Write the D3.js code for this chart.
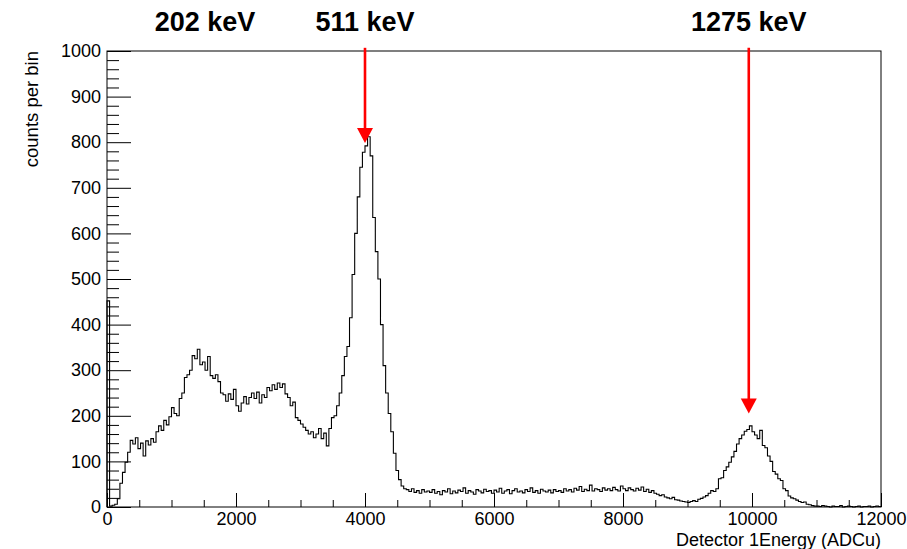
<!DOCTYPE html>
<html><head><meta charset="utf-8">
<script src="https://cdn.jsdelivr.net/npm/d3@7"></script>
<style>
body{margin:0;background:#fff}
svg{display:block}
text{font-family:"Liberation Sans",Arial,Helvetica,sans-serif;fill:#000}
</style>
</head><body>
<svg id="chart" width="907" height="549"></svg>
<script>
// ---- data ----
const binWidth = 40;          // ADCu per bin
const xDomain = [0, 12000];
const yDomain = [0, 1000];
const counts = [
  // 0 - 1000
  452, 2, 4, 6, 18, 52, 76, 98, 120, 146, 138, 152, 128, 140, 112, 145, 136, 150, 142, 165, 178, 168, 190, 180, 198,
  // 1000 - 2000
  218, 205, 200, 238, 250, 284, 290, 300, 332, 325, 346, 312, 318, 300, 330, 288, 282, 290, 275, 250, 246, 232, 248, 236, 258,
  // 2000 - 3000
  222, 210, 228, 242, 226, 240, 250, 238, 252, 228, 246, 240, 262, 255, 268, 258, 272, 262, 270, 248, 240, 222, 230, 196, 190,
  // 3000 - 4000
  182, 175, 168, 160, 165, 152, 160, 172, 150, 162, 134, 172, 196, 200, 222, 250, 288, 330, 352, 415, 510, 600, 680, 745, 778,
  // 4000 - 5000
  792, 812, 770, 635, 560, 500, 400, 310, 250, 205, 165, 118, 80, 60, 46, 40, 38, 34, 40, 32, 36, 30, 38, 33, 35,
  // 5000 - 6000
  32, 38, 30, 34, 27, 36, 33, 40, 29, 35, 31, 37, 34, 42, 30, 36, 33, 28, 38, 35, 31, 39, 34, 36, 30,
  // 6000 - 7000
  37, 33, 41, 30, 35, 38, 29, 36, 40, 33, 35, 31, 38, 34, 42, 32, 36, 30, 39, 35, 33, 37, 31, 38, 34,
  // 7000 - 8000
  36, 32, 40, 35, 38, 33, 41, 37, 45, 34, 39, 36, 48, 35, 40, 38, 34, 42, 37, 40, 36, 43, 38, 35, 46,
  // 8000 - 9000
  40, 36, 42, 38, 35, 41, 37, 44, 34, 39, 32, 36, 30, 28, 25, 27, 22, 20, 18, 21, 16, 15, 13, 12, 11,
  // 9000 - 10000
  10, 12, 14, 12, 17, 19, 22, 25, 30, 36, 34, 40, 62, 64, 80, 88, 98, 110, 122, 138, 150, 158, 166, 170, 178,
  // 10000 - 11000
  165, 158, 150, 168, 135, 130, 112, 100, 78, 72, 62, 58, 40, 36, 24, 20, 18, 15, 12, 10, 11, 6, 5, 3, 2,
  // 11000 - 12000
  2, 1, 3, 2, 1, 0, 2, 1, 1, 3, 0, 1, 2, 1, 0, 1, 2, 0, 1, 1, 2, 0, 1, 2, 1
];
const xMajorTicks = [0, 2000, 4000, 6000, 8000, 10000, 12000];
const xMinorStep = 500;
const yMajorTicks = [0, 100, 200, 300, 400, 500, 600, 700, 800, 900, 1000];
const yMinorStep = 20;
const peakLabels = ["202 keV", "511 keV", "1275 keV"];
const peakLabelX = [1520, 4000, 9950];
const arrowX = [4000, 9950];
const arrowTipY = [798, 205];
const arrowTopY = 1007;
const xTitle = "Detector 1Energy (ADCu)";
const yTitle = "counts per bin";

// ---- layout ----
const svg = d3.select("#chart");
const x = d3.scaleLinear().domain(xDomain).range([107, 881]);
const y = d3.scaleLinear().domain(yDomain).range([507, 51]);
const tickFont = 18;

// frame
svg.append("rect")
  .attr("x", x(xDomain[0])).attr("y", y(yDomain[1]))
  .attr("width", x(xDomain[1]) - x(xDomain[0]))
  .attr("height", y(yDomain[0]) - y(yDomain[1]))
  .attr("fill", "none").attr("stroke", "#000").attr("stroke-width", 1);

// x axis minor ticks
const xMinor = d3.range(xDomain[0], xDomain[1] + 1, xMinorStep).filter(v => !xMajorTicks.includes(v));
svg.append("g").attr("transform", `translate(0,${y(0)})`)
  .call(d3.axisBottom(x).tickValues(xMinor).tickSize(-7).tickSizeOuter(0).tickFormat(""))
  .call(g => g.select(".domain").remove());
// x axis major
svg.append("g").attr("transform", `translate(0,${y(0)})`)
  .call(d3.axisBottom(x).tickValues(xMajorTicks).tickSize(-14).tickSizeOuter(0).tickPadding(5).tickFormat(d3.format("d")))
  .call(g => g.select(".domain").remove())
  .call(g => g.selectAll("text").attr("font-size", tickFont).attr("font-family", null));

// y axis minor
const yMinor = d3.range(yDomain[0], yDomain[1] + 1, yMinorStep).filter(v => !yMajorTicks.includes(v));
svg.append("g").attr("transform", `translate(${x(0)},0)`)
  .call(d3.axisLeft(y).tickValues(yMinor).tickSize(-12).tickSizeOuter(0).tickFormat(""))
  .call(g => g.select(".domain").remove());
// y axis major
svg.append("g").attr("transform", `translate(${x(0)},0)`)
  .call(d3.axisLeft(y).tickValues(yMajorTicks).tickSize(-24).tickSizeOuter(0).tickPadding(6).tickFormat(d3.format("d")))
  .call(g => g.select(".domain").remove())
  .call(g => g.selectAll("text").attr("font-size", tickFont).attr("font-family", null));

svg.selectAll(".tick line").attr("stroke", "#000");

// histogram outline
const pts = [[xDomain[0], 0]];
counts.forEach((c, i) => pts.push([i * binWidth, c]));
pts.push([counts.length * binWidth, counts[counts.length - 1]]);
pts.push([counts.length * binWidth, 0]);
const line = d3.line().x(d => x(d[0])).y(d => y(d[1])).curve(d3.curveStepAfter);
svg.append("path").attr("d", line(pts))
  .attr("fill", "none").attr("stroke", "#000").attr("stroke-width", 1.1);

// axis titles
svg.append("text").attr("x", x(xDomain[1])).attr("y", 545.5)
  .attr("text-anchor", "end").attr("font-size", 18).text(xTitle);
svg.append("text").attr("transform", `translate(38,${y(yDomain[1])}) rotate(-90)`)
  .attr("text-anchor", "end").attr("font-size", 18.5).text(yTitle);

// peak labels
svg.selectAll("text.peak").data(peakLabels).join("text").attr("class", "peak")
  .attr("x", (d, i) => x(peakLabelX[i])).attr("y", 31)
  .attr("text-anchor", "middle").attr("font-size", 27).attr("font-weight", "bold")
  .text(d => d);

// arrows
const headLen = 15, headHalf = 8;
arrowX.forEach((ax, i) => {
  const px = x(ax), top = y(arrowTopY), tip = y(arrowTipY[i]);
  svg.append("line").attr("x1", px).attr("x2", px).attr("y1", top).attr("y2", tip - headLen + 1)
    .attr("stroke", "#ff0000").attr("stroke-width", 2.6);
  svg.append("path")
    .attr("d", `M${px - headHalf},${tip - headLen} L${px + headHalf},${tip - headLen} L${px},${tip} Z`)
    .attr("fill", "#ff0000");
});
</script>
</body></html>
